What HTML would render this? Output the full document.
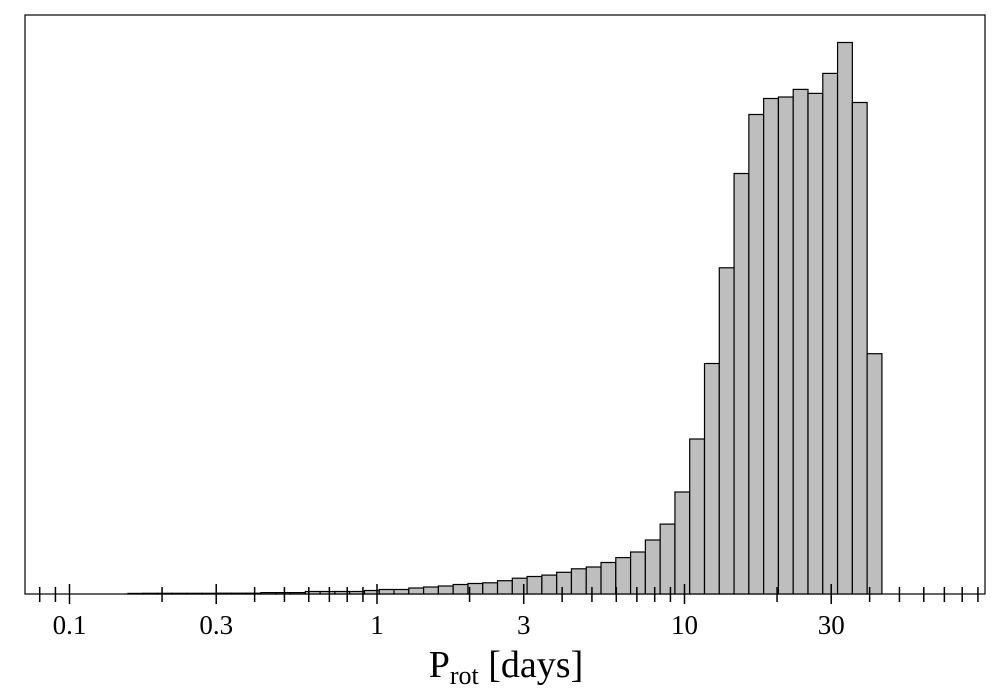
<!DOCTYPE html>
<html><head><meta charset="utf-8"><style>
body{margin:0;background:#fff}
svg{display:block}
text{font-family:"Liberation Serif",serif;fill:#000}
</style></head><body>
<svg id="chart" width="1000" height="700">
<rect x="25" y="15" width="960" height="579" fill="none" stroke="#000" stroke-width="1.2"/>
<g id="bars"></g>
<g id="ticks"></g>
<text x="506" y="677" text-anchor="middle" font-size="38">P<tspan font-size="26" dy="7">rot</tspan><tspan dy="-7"> [days]</tspan></text>
</svg>
<script>
const binLogMin = -0.81;
const binLogMax = 1.642;
const counts = [0.6,0.7,0.7,0.7,0.7,0.7,0.8,0.8,0.8,
 1.4,1.4,1.4,2.5,2.5,2.5,2.5,3.5,4.5,4.5,6,7,8,9.5,10.5,11.2,13.3,15.8,17.5,18.9,21.7,25.2,27,31.5,36.4,42,54,
 69.9,102,155,230.5,326.2,420.5,479.5,495.5,497,504.6,500.6,520.6,551.5,491.5,240.3];
const majorTicks = [0.1,0.3,1,3,10,30];
const majorLabels = ["0.1","0.3","1","3","10","30"];
const minorTicks = [0.08,0.09,0.2,0.4,0.5,0.6,0.7,0.8,0.9,2,4,5,6,7,8,9,20,40,50,60,70,80,90];
const yMax = 579;

const NS="http://www.w3.org/2000/svg";
const x0=377, dec=307.5, base=594, plotTop=15;
function xs(v){return x0+Math.log10(v)*dec;}
function xl(l){return x0+l*dec;}
function ys(c){return base-(c/yMax)*(base-plotTop);}
const bw=(binLogMax-binLogMin)/counts.length;
const bars=document.getElementById('bars');
counts.forEach((c,i)=>{
  const r=document.createElementNS(NS,'rect');
  const a=xl(binLogMin+i*bw), b=xl(binLogMin+(i+1)*bw);
  r.setAttribute('x',a);r.setAttribute('width',b-a);
  r.setAttribute('y',ys(c));r.setAttribute('height',base-ys(c));
  r.setAttribute('fill','#bebebe');r.setAttribute('stroke','#000');r.setAttribute('stroke-width','1.2');
  
  
  bars.appendChild(r);
});
const tg=document.getElementById('ticks');
function tick(v,up,down){
  const l=document.createElementNS(NS,'line');
  l.setAttribute('x1',xs(v));l.setAttribute('x2',xs(v));
  l.setAttribute('y1',base-up);l.setAttribute('y2',base+down);
  l.setAttribute('stroke','#000');l.setAttribute('stroke-width','1.5');
  
  
  tg.appendChild(l);
}
minorTicks.forEach(v=>tick(v,7,8));
majorTicks.forEach((v,i)=>{
  tick(v,10,10);
  const t=document.createElementNS(NS,'text');
  t.setAttribute('x',xs(v));t.setAttribute('y',634);
  t.setAttribute('text-anchor','middle');t.setAttribute('font-size','27');
  t.textContent=majorLabels[i];
  
  
  tg.appendChild(t);
});
</script>
</body></html>
